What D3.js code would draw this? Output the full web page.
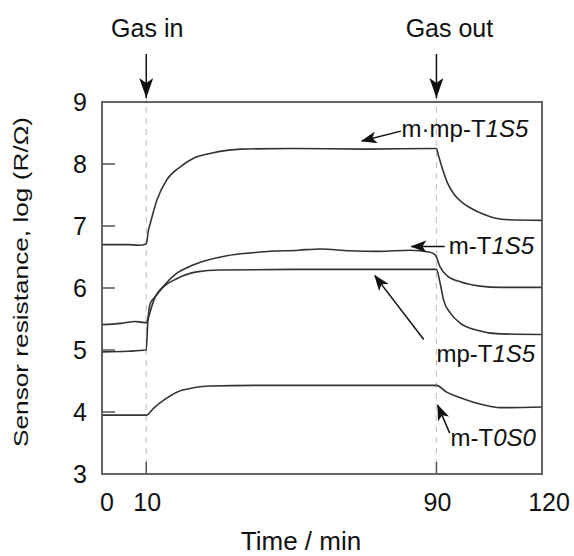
<!DOCTYPE html>
<html>
<head>
<meta charset="utf-8">
<script src="https://cdn.jsdelivr.net/npm/d3@7"></script>
<style>
  html, body { margin: 0; padding: 0; background: #fff; }
  svg { display: block; font-family: Arial, "Liberation Sans", sans-serif; }
</style>
</head>
<body>
<div id="chart"></div>
<script>
// x domain is the frame extent in minutes, y is log(R/Ω)
const xDomain = [-2.2, 119.1];
const yDomain = [3, 9];
const xTicks = [0, 10, 90, 120];
const xInnerTicks = [10, 90];
const yTicks = [3, 4, 5, 6, 7, 8, 9];
const yInnerTicks = [4, 5, 6, 7, 8];
const gasEvents = [{ t: 10, label: 'Gas in', dx: 1 }, { t: 90, label: 'Gas out', dx: 13 }];

// [time, log R]
const mmpT1S5 = [[-2.2,6.70],[5,6.70],[8,6.69],[10,6.71],[10.6,6.93],[11.1,7.04],[12.9,7.41],[15.6,7.74],[19.3,7.95],[22.9,8.09],[27.6,8.17],[32.2,8.22],[36,8.24],[50,8.25],[70,8.24],[90,8.25],[90.5,8.15],[91.5,7.95],[93,7.7],[95,7.5],[97.5,7.36],[100,7.27],[103,7.19],[106,7.13],[110,7.10],[119.1,7.09]];
const mT1S5 = [[-2.2,5.41],[3,5.43],[7,5.46],[8.5,5.45],[10,5.44],[10.6,5.52],[11.5,5.70],[12.5,5.86],[14.6,6.02],[18,6.22],[22.9,6.37],[32.2,6.52],[41.4,6.58],[52,6.61],[58,6.63],[66,6.60],[74,6.59],[82.7,6.61],[88,6.58],[89.7,6.53],[91,6.34],[92.9,6.2],[96.6,6.10],[102,6.03],[107.7,6.01],[119.1,6.01]];
const mpT1S5 = [[-2.2,4.97],[5,4.98],[10,5.0],[10.4,5.43],[11.1,5.75],[12.5,5.86],[14.8,6.02],[18.4,6.15],[23.9,6.26],[30.3,6.29],[50,6.30],[90,6.30],[91,6.08],[92,5.80],[93.9,5.59],[96.6,5.43],[101.2,5.32],[107.6,5.26],[119.1,5.25]];
const mT0S0 = [[-2.2,3.95],[10,3.95],[12,4.06],[14.8,4.19],[18.4,4.32],[23,4.39],[27.6,4.42],[40,4.43],[90,4.43],[92.8,4.32],[96.6,4.23],[101.2,4.14],[105,4.09],[107.6,4.07],[119.1,4.08]];

const series = [mmpT1S5, mT1S5, mpT1S5, mT0S0];

// labels: text parts [str, italic], text anchor point, arrow tail and tip (data coords)
const annotations = [
    { parts: [['m·mp-T', false], ['1S5', true]], at: [80.4, 8.44], from: [80.2, 8.53], to: [69.4, 8.37] },
    { parts: [['m-T', false], ['1S5', true]], at: [93.4, 6.555], from: [92.3, 6.67], to: [83.1, 6.67] },
    { parts: [['mp-T', false], ['1S5', true]], at: [90.0, 4.80], from: [86.5, 5.17], to: [73.0, 6.20] },
    { parts: [['m-T', false], ['0S0', true]], at: [93.9, 3.45], from: [93.65, 3.66], to: [90.35, 4.11] }
];

const width = 574, height = 556;
const margin = { top: 102, right: 32, bottom: 82, left: 102 };

const svg = d3.select('#chart').append('svg')
    .attr('width', width)
    .attr('height', height);

const x = d3.scaleLinear().domain(xDomain).range([margin.left, width - margin.right]);
const y = d3.scaleLinear().domain(yDomain).range([height - margin.bottom, margin.top]);

// arrowheads
const defs = svg.append('defs');
defs.append('marker')
    .attr('id', 'head')
    .attr('viewBox', '0 0 16 12')
    .attr('refX', 15).attr('refY', 6)
    .attr('markerWidth', 16).attr('markerHeight', 12)
    .attr('markerUnits', 'userSpaceOnUse')
    .attr('orient', 'auto')
    .append('path')
    .attr('d', 'M0,0 L16,6 L0,12 L4,6 Z')
    .attr('fill', '#111');
defs.append('marker')
    .attr('id', 'headDown')
    .attr('viewBox', '0 0 14 20')
    .attr('refX', 7).attr('refY', 20)
    .attr('markerWidth', 14).attr('markerHeight', 20)
    .attr('markerUnits', 'userSpaceOnUse')
    .attr('orient', '0')
    .append('path')
    .attr('d', 'M0,0 L7,5 L14,0 L7,20 Z')
    .attr('fill', '#111');

// dashed guide lines
svg.append('g')
    .selectAll('line')
    .data(gasEvents)
    .join('line')
    .attr('x1', d => x(d.t)).attr('x2', d => x(d.t))
    .attr('y1', margin.top - 6).attr('y2', height - margin.bottom)
    .attr('stroke', '#c8c8c8')
    .attr('stroke-width', 1.2)
    .attr('stroke-dasharray', '6,5');

// gas arrows + text
svg.append('g')
    .selectAll('line')
    .data(gasEvents)
    .join('line')
    .attr('x1', d => x(d.t)).attr('x2', d => x(d.t))
    .attr('y1', margin.top - 48).attr('y2', margin.top - 4)
    .attr('stroke', '#111')
    .attr('stroke-width', 1.5)
    .attr('marker-end', 'url(#headDown)');

svg.append('g')
    .selectAll('text')
    .data(gasEvents)
    .join('text')
    .attr('x', d => x(d.t) + d.dx)
    .attr('y', 37)
    .attr('text-anchor', 'middle')
    .attr('font-size', 25)
    .attr('fill', '#111')
    .text(d => d.label);

// curves
const line = d3.line()
    .x(d => x(d[0]))
    .y(d => y(d[1]))
    .curve(d3.curveMonotoneX);

svg.append('g')
    .selectAll('path')
    .data(series)
    .join('path')
    .attr('d', line)
    .attr('fill', 'none')
    .attr('stroke', '#333')
    .attr('stroke-width', 1.6);

// frame
svg.append('rect')
    .attr('x', x.range()[0]).attr('y', y.range()[1])
    .attr('width', x.range()[1] - x.range()[0])
    .attr('height', y.range()[0] - y.range()[1])
    .attr('fill', 'none')
    .attr('stroke', '#555')
    .attr('stroke-width', 1.8);

// inward ticks
svg.append('g')
    .selectAll('line')
    .data(yInnerTicks)
    .join('line')
    .attr('x1', x.range()[0]).attr('x2', x.range()[0] + 13)
    .attr('y1', d => y(d)).attr('y2', d => y(d))
    .attr('stroke', '#555')
    .attr('stroke-width', 1.5);

svg.append('g')
    .selectAll('line')
    .data(xInnerTicks)
    .join('line')
    .attr('x1', d => x(d)).attr('x2', d => x(d))
    .attr('y1', y.range()[0]).attr('y2', y.range()[0] - 12)
    .attr('stroke', '#555')
    .attr('stroke-width', 1.5);

// tick labels
svg.append('g')
    .selectAll('text')
    .data(yTicks)
    .join('text')
    .attr('x', x.range()[0] - 22)
    .attr('y', d => y(d))
    .attr('dy', '0.36em')
    .attr('text-anchor', 'middle')
    .attr('font-size', 25)
    .attr('fill', '#111')
    .text(d => d);

const clampX = v => x(Math.max(xDomain[0], Math.min(xDomain[1], v)));
svg.append('g')
    .selectAll('text')
    .data(xTicks)
    .join('text')
    .attr('x', d => clampX(d) + (d >= 120 ? 7 : d <= 0 ? -3 : 1))
    .attr('y', y.range()[0] + 37)
    .attr('text-anchor', 'middle')
    .attr('font-size', 25)
    .attr('fill', '#111')
    .text(d => d);

// axis titles
svg.append('text')
    .attr('x', 301)
    .attr('y', 550)
    .attr('text-anchor', 'middle')
    .attr('font-size', 26)
    .attr('fill', '#111')
    .text('Time / min');

svg.append('text')
    .attr('transform', 'translate(28,282) rotate(-90)')
    .attr('text-anchor', 'middle')
    .attr('font-size', 21)
    .attr('textLength', 330)
    .attr('lengthAdjust', 'spacingAndGlyphs')
    .attr('fill', '#111')
    .text('Sensor resistance, log (R/Ω)');

// annotations
const ann = svg.append('g');
ann.selectAll('line')
    .data(annotations)
    .join('line')
    .attr('x1', d => x(d.from[0])).attr('y1', d => y(d.from[1]))
    .attr('x2', d => x(d.to[0])).attr('y2', d => y(d.to[1]))
    .attr('stroke', '#111')
    .attr('stroke-width', 1.5)
    .attr('marker-end', 'url(#head)');

ann.selectAll('text')
    .data(annotations)
    .join('text')
    .attr('x', d => x(d.at[0]))
    .attr('y', d => y(d.at[1]))
    .attr('font-size', 24)
    .attr('fill', '#111')
    .selectAll('tspan')
    .data(d => d.parts)
    .join('tspan')
    .attr('font-style', d => d[1] ? 'italic' : 'normal')
    .text(d => d[0]);
</script>
</body>
</html>
